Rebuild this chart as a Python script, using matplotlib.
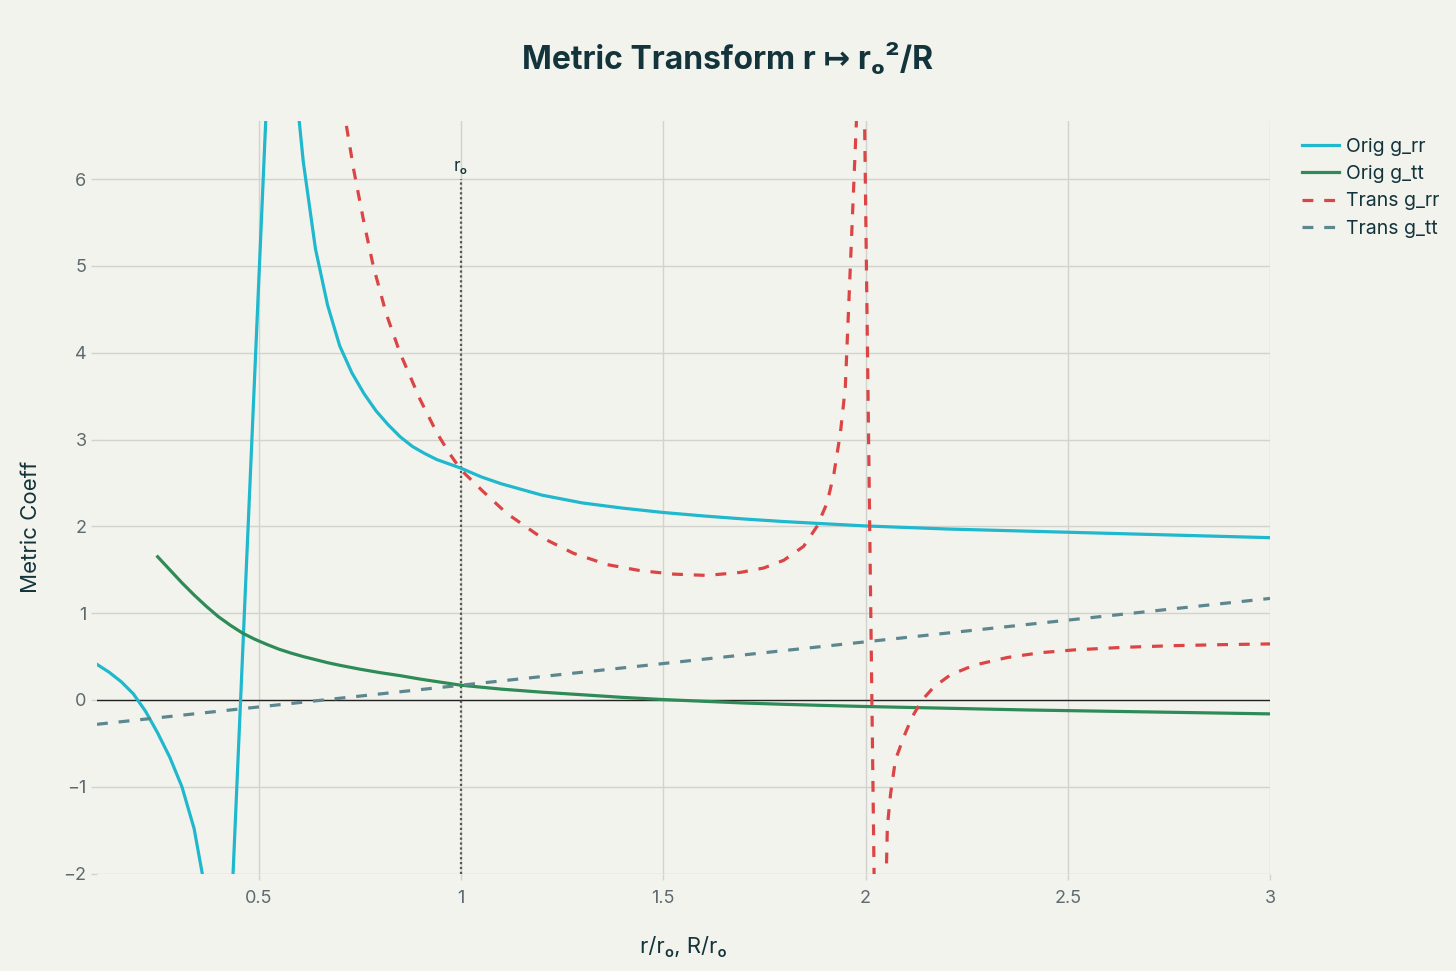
import matplotlib
matplotlib.use("Agg")
import matplotlib.pyplot as plt

plt.rcParams['font.family'] = ['Inter', 'DejaVu Sans']

# values
orig_rr_x = [0.10, 0.13, 0.16, 0.19, 0.22, 0.25, 0.28, 0.31, 0.34, 0.37, 0.40, 0.42,
             0.55, 0.58, 0.61, 0.64, 0.67, 0.70, 0.73, 0.76, 0.79, 0.82, 0.85, 0.88,
             0.91, 0.94, 0.97, 1.00, 1.05, 1.10, 1.20, 1.30, 1.40, 1.50, 1.60, 1.70,
             1.80, 1.90, 2.00, 2.20, 2.40, 2.60, 2.80, 3.00]
orig_rr_y = [0.41, 0.32, 0.21, 0.07, -0.13, -0.38, -0.66, -1.00, -1.48, -2.25, -9.0, -3.76,
             10.2, 7.6, 6.2, 5.2, 4.55, 4.08, 3.77, 3.53, 3.33, 3.17, 3.03, 2.92,
             2.84, 2.77, 2.72, 2.67, 2.57, 2.49, 2.36, 2.27, 2.21, 2.16, 2.12, 2.085,
             2.055, 2.03, 2.005, 1.97, 1.945, 1.92, 1.895, 1.87]

orig_tt_x = [0.25, 0.28, 0.31, 0.34, 0.37, 0.40, 0.43, 0.46, 0.49, 0.52, 0.55, 0.58,
             0.61, 0.64, 0.67, 0.70, 0.75, 0.80, 0.85, 0.90, 0.95, 1.00, 1.10, 1.20,
             1.30, 1.40, 1.50, 1.60, 1.70, 1.80, 1.90, 2.00, 2.20, 2.40, 2.60, 2.80, 3.00]
orig_tt_y = [1.65, 1.50, 1.35, 1.21, 1.08, 0.96, 0.86, 0.77, 0.70, 0.64, 0.585, 0.54,
             0.50, 0.465, 0.43, 0.40, 0.355, 0.315, 0.28, 0.24, 0.205, 0.17, 0.125, 0.09,
             0.06, 0.03, 0.005, -0.015, -0.035, -0.05, -0.063, -0.075, -0.095, -0.115,
             -0.13, -0.145, -0.16]

trans_rr_x = [0.68, 0.715, 0.735, 0.76, 0.783, 0.815, 0.849, 0.899, 0.94, 0.97, 1.00, 1.055,
              1.113, 1.196, 1.278, 1.361, 1.443, 1.526, 1.608, 1.691, 1.748, 1.798,
              1.847, 1.880, 1.905, 1.922, 1.938, 1.950, 1.993, 2.032, 2.054, 2.062,
              2.074, 2.095, 2.116, 2.140, 2.169, 2.210, 2.268, 2.351, 2.433, 2.516,
              2.639, 2.763, 2.887, 3.0]
trans_rr_y = [7.6, 6.66, 6.1, 5.5, 5.0, 4.45, 4.0, 3.46, 3.08, 2.85, 2.65, 2.40,
              2.15, 1.88, 1.69, 1.56, 1.49, 1.45, 1.435, 1.47, 1.52, 1.61,
              1.77, 2.0, 2.27, 2.61, 3.08, 3.6, 8.4, -6.0, -1.46, -1.08,
              -0.69, -0.42, -0.19, 0.0, 0.15, 0.29, 0.40, 0.49, 0.545, 0.577,
              0.607, 0.626, 0.638, 0.646]

trans_tt_x = [0.1, 0.5, 1.0, 1.5, 2.0, 2.5, 3.0]
trans_tt_y = [-0.28, -0.08, 0.17, 0.42, 0.67, 0.92, 1.17]

r0 = 1.0
x_ticks = [0.5, 1, 1.5, 2, 2.5, 3]
x_tick_labels = ['0.5', '1', '1.5', '2', '2.5', '3']
y_ticks = [-2, -1, 0, 1, 2, 3, 4, 5, 6]

bg = '#F3F3EE'
grid_c = '#D2D2CE'
text_c = '#13343B'
tick_c = '#5E6A6E'

fig = plt.figure(figsize=(14.56, 9.71), dpi=100, facecolor=bg)
ax = fig.add_axes([97 / 1456, 1 - 873.6 / 971, (1270 - 97) / 1456, (873.6 - 121) / 971])
ax.set_facecolor(bg)

ax.set_xlim(0.1, 3.0)
ax.set_ylim(-2, 6.67)

ax.set_xticks(x_ticks)
ax.set_xticklabels(x_tick_labels)
ax.set_yticks(y_ticks)
ax.grid(True, color=grid_c, linewidth=1.0)
ax.set_axisbelow(True)
for s in ax.spines.values():
    s.set_visible(False)
ax.tick_params(axis='both', colors=grid_c, labelcolor=tick_c, labelsize=13, length=4.5, width=1)
ax.tick_params(axis='x', pad=7)
ax.tick_params(axis='y', pad=3)

ax.axhline(0, color='#222222', linewidth=1.0, zorder=1.5)

lw = 2.3
ax.plot(orig_rr_x, orig_rr_y, color='#1FB8CD', lw=lw, label='Orig g_rr', zorder=3)
ax.plot(orig_tt_x, orig_tt_y, color='#2E8B57', lw=lw, label='Orig g_tt', zorder=3)
ax.plot(trans_rr_x, trans_rr_y, color='#DB4545', lw=lw, dashes=(3.4, 3.4),
        label='Trans g_rr', zorder=3)
ax.plot(trans_tt_x, trans_tt_y, color='#5D878F', lw=lw, dashes=(3.4, 3.4),
        label='Trans g_tt', zorder=3)

# reference line at r0
ax.vlines(r0, -2, 6.0, colors='#555555', linestyles=(0, (1, 1.2)), linewidth=1.6, zorder=2.5)
ax.text(r0, 6.15, 'rₒ', ha='center', va='center', fontsize=12.5, color=text_c)

fig.text(0.5, 1 - 60 / 971, 'Metric Transform r ↦ rₒ²/R', ha='center', va='center',
         fontsize=23, fontweight='bold', color=text_c)
fig.text(683.5 / 1456, 1 - 946 / 971, 'r/rₒ, R/rₒ', ha='center', va='center',
         fontsize=16, color=text_c)
fig.text(31 / 1456, 1 - 527 / 971, 'Metric Coeff', ha='center', va='center',
         fontsize=16, color=text_c, rotation=90)

leg = fig.legend(loc='upper left', bbox_to_anchor=(1294 / 1456, 1 - 130 / 971),
                 frameon=False, fontsize=14, handlelength=1.9, handletextpad=0.4,
                 labelspacing=0.48, borderaxespad=0)
for t in leg.get_texts():
    t.set_color(text_c)

fig.savefig('out.png', dpi=100, facecolor=bg)
